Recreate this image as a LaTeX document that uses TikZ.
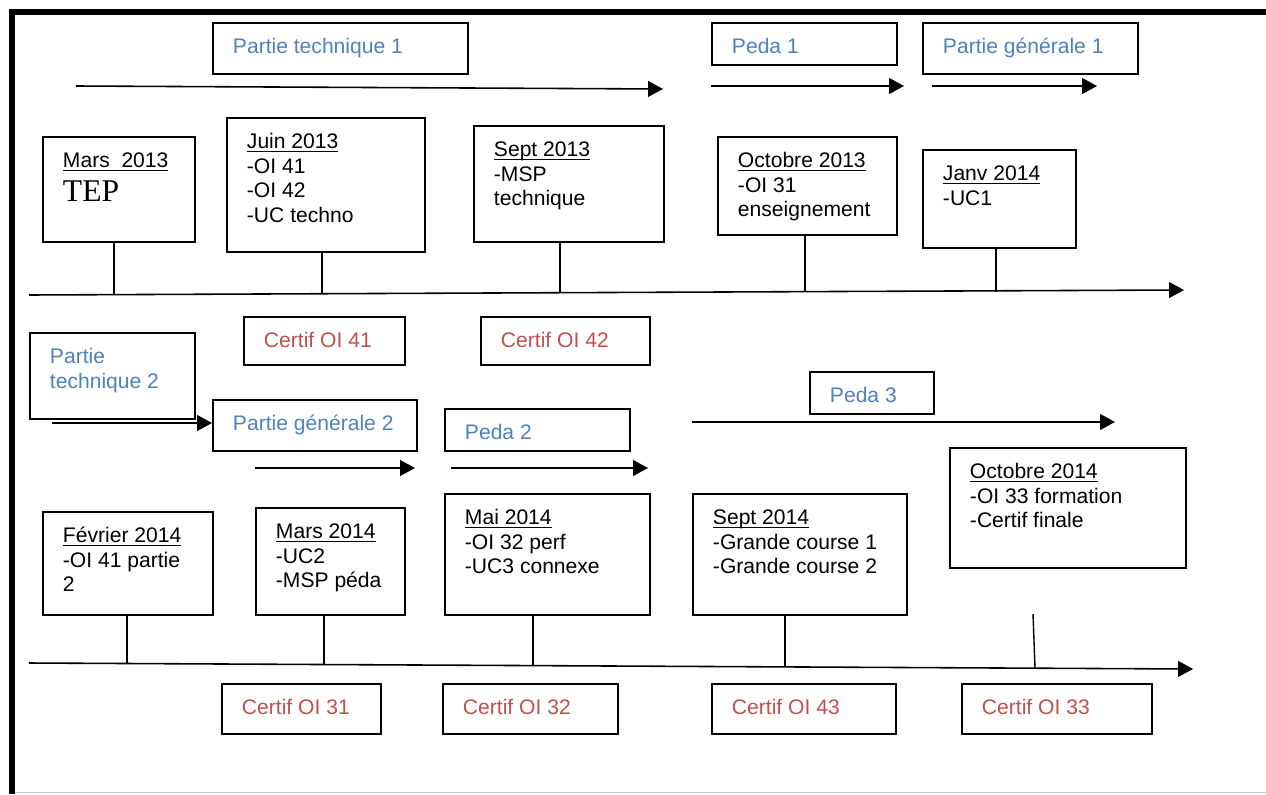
\documentclass[tikz,border=0pt]{standalone}
\usepackage{fontspec}
\setmainfont{Liberation Sans}
\newfontfamily\tepfont{Liberation Serif}
\usetikzlibrary{arrows.meta}

\definecolor{phaseblue}{HTML}{4F81BD}
\definecolor{certifred}{HTML}{C0504D}

\newlength{\pxu}\setlength{\pxu}{0.02cm}
% box contents: width, height, text (top left, fixed padding)
\newcommand{\boxtxt}[3]{\parbox[c][#2\pxu][t]{#1\pxu}{\leftskip=20\pxu\rule{0pt}{31\pxu}#3}}
\newcommand{\datehd}[1]{\underline{\smash{#1}}}

\begin{document}
\begin{tikzpicture}[x=0.02cm,y=-0.02cm,>={Triangle[length=8.5pt,width=9pt]},
  line width=0.9pt,
  date box/.style={draw,line width=1.1pt,anchor=north west,inner sep=0pt,
  font=\fontsize{12}{13.9}\selectfont},
  phase box/.style={date box,text=phaseblue},
  certif box/.style={date box,text=certifred},
  tick/.style={line width=0.8pt}]

  \useasboundingbox (0,0) rectangle (1266,794);
  \draw[line width=3.4pt] (12,794) -- (12,12) -- (1266,12);
  \draw[gray!45,line width=0.6pt] (15,792.5) -- (1266,792.5);

  % first year
  \node[phase box] (pt1) at (212,22) {\boxtxt{255}{51}{Partie technique 1}};
  \node[phase box] (peda1) at (711,22) {\boxtxt{185}{42}{Peda 1}};
  \node[phase box] (pg1) at (922,22) {\boxtxt{215}{51}{Partie générale 1}};

  \node[date box] (mars13) at (42,136)
    {\boxtxt{152}{105}{\datehd{Mars\ \ 2013}\\[5.4pt]{\tepfont\fontsize{18}{20}\selectfont TEP}}};
  \node[date box] (juin13) at (226,117)
    {\boxtxt{198}{134}{\datehd{Juin 2013}\\-OI 41\\-OI 42\\-UC techno}};
  \node[date box] (sept13) at (473,125)
    {\boxtxt{190}{116}{\datehd{Sept 2013}\\-MSP\\technique}};
  \node[date box] (oct13) at (717,136)
    {\boxtxt{179}{98}{\datehd{Octobre 2013}\\-OI 31\\enseignement}};
  \node[date box] (janv14) at (922,149)
    {\boxtxt{153}{98}{\datehd{Janv 2014}\\-UC1}};

  \node[certif box] (c41) at (243,316) {\boxtxt{161}{48}{Certif OI 41}};
  \node[certif box] (c42) at (480,316) {\boxtxt{169}{48}{Certif OI 42}};

  % second year
  \node[phase box] (pt2) at (29,332) {\boxtxt{165}{86}{Partie\\technique 2}};
  \node[phase box] (pg2) at (212,399) {\boxtxt{204}{51}{Partie générale 2}};
  \node[phase box] (peda2) at (444,408) {\boxtxt{185}{42}{Peda 2}};
  \node[phase box] (peda3) at (809,371) {\boxtxt{124}{42}{Peda 3}};

  \node[date box] (fev14) at (42,511)
    {\boxtxt{170}{103}{\datehd{Février 2014}\\-OI 41 partie\\2}};
  \node[date box] (mars14) at (255,507)
    {\boxtxt{149}{107}{\datehd{Mars 2014}\\-UC2\\-MSP péda}};
  \node[date box] (mai14) at (444,493)
    {\boxtxt{205}{121}{\datehd{Mai 2014}\\-OI 32 perf\\-UC3 connexe}};
  \node[date box] (sept14) at (692,493)
    {\boxtxt{214}{121}{\datehd{Sept 2014}\\-Grande course 1\\-Grande course 2}};
  \node[date box] (oct14) at (949,447)
    {\boxtxt{236}{120}{\datehd{Octobre 2014}\\-OI 33 formation\\-Certif finale}};

  \node[certif box] (c31) at (221,683) {\boxtxt{159}{50}{Certif OI 31}};
  \node[certif box] (c32) at (442,683) {\boxtxt{175}{50}{Certif OI 32}};
  \node[certif box] (c43) at (711,683) {\boxtxt{184}{50}{Certif OI 43}};
  \node[certif box] (c33) at (961,683) {\boxtxt{190}{50}{Certif OI 33}};

  % phase arrows
  \coordinate (a1s) at (76,86);   \coordinate (a1e) at (663,89);
  \coordinate (a2s) at (711,86);  \coordinate (a2e) at (904,86);
  \coordinate (a3s) at (932,86);  \coordinate (a3e) at (1097,86);
  \coordinate (a4s) at (52,423);
  \coordinate (a5s) at (255,468); \coordinate (a5e) at (415,468);
  \coordinate (a6s) at (451,468); \coordinate (a6e) at (648,468);
  \coordinate (a7s) at (692,422); \coordinate (a7e) at (1115,422);
  \draw[->] (a1s) -- (a1e);
  \draw[->] (a2s) -- (a2e);
  \draw[->] (a3s) -- (a3e);
  \draw[->] (a4s) -- (pg2.west |- a4s);
  \draw[->] (a5s) -- (a5e);
  \draw[->] (a6s) -- (a6e);
  \draw[->] (a7s) -- (a7e);

  % time lines
  \coordinate (t1s) at (29,295);  \coordinate (t1e) at (1184,290);
  \coordinate (t2s) at (29,663);  \coordinate (t2e) at (1193,669);
  \draw[->] (t1s) -- (t1e);
  \draw[->] (t2s) -- (t2e);

  % ticks down to the time lines
  \coordinate (k1) at (114,294);  \coordinate (k2) at (322,294);
  \coordinate (k3) at (560,293);  \coordinate (k4) at (805,292);
  \coordinate (k5) at (996,292);
  \coordinate (k6) at (127,664);  \coordinate (k7) at (324,665);
  \coordinate (k8) at (533,666);  \coordinate (k9) at (785,667);
  \coordinate (k10) at (1035,668); \coordinate (k10top) at (1033,614);
  \draw[tick] (k1 |- mars13.south) -- (k1);
  \draw[tick] (k2 |- juin13.south) -- (k2);
  \draw[tick] (k3 |- sept13.south) -- (k3);
  \draw[tick] (k4 |- oct13.south) -- (k4);
  \draw[tick] (k5 |- janv14.south) -- (k5);
  \draw[tick] (k6 |- fev14.south) -- (k6);
  \draw[tick] (k7 |- mars14.south) -- (k7);
  \draw[tick] (k8 |- mai14.south) -- (k8);
  \draw[tick] (k9 |- sept14.south) -- (k9);
  \draw[tick] (k10top) -- (k10);

\end{tikzpicture}
\end{document}
